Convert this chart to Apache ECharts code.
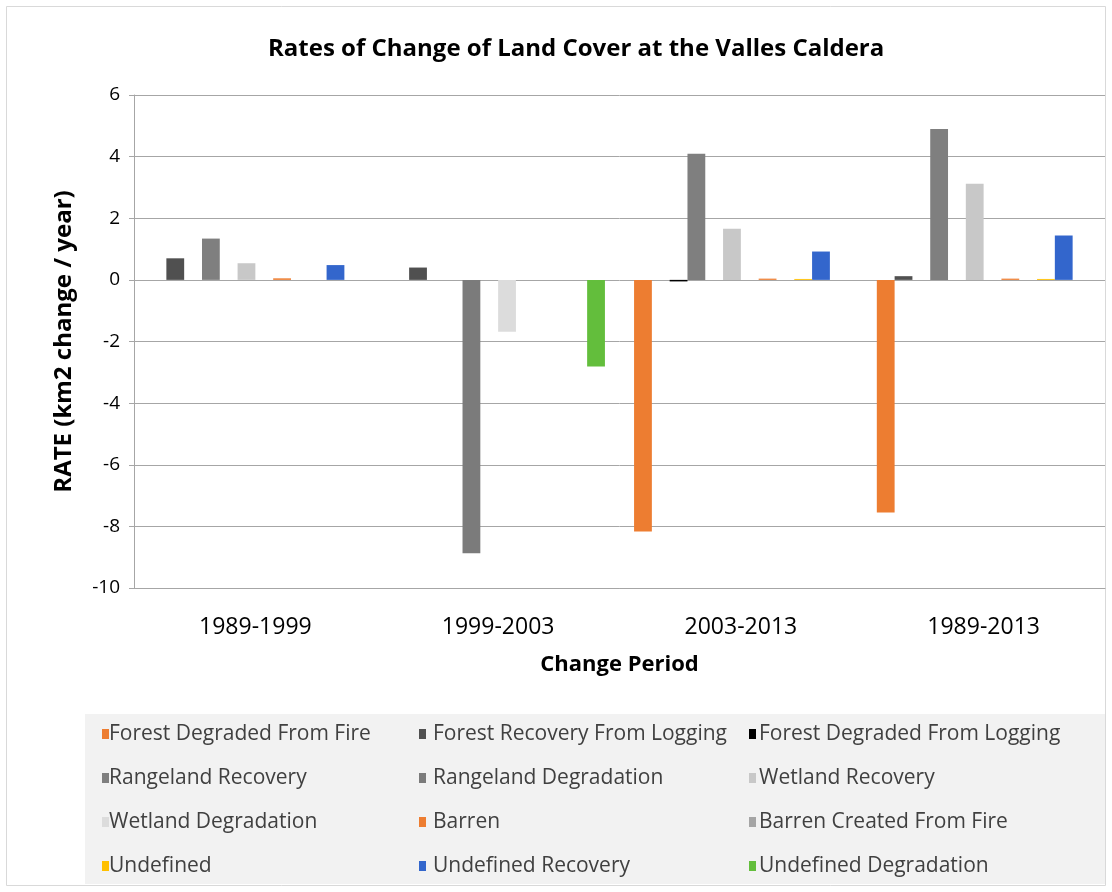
<!DOCTYPE html>
<html>
<head>
<meta charset="utf-8">
<script src="https://cdn.jsdelivr.net/npm/echarts@6/dist/echarts.min.js"></script>
<style>
html,body{margin:0;padding:0;background:#fff;}
#chart{width:1112px;height:892px;}
</style>
</head>
<body>
<div id="chart"></div>
<script>
const FONT = '"Open Sans", "Noto Sans", sans-serif';
const categories = ['1989-1999', '1999-2003', '2003-2013', '1989-2013'];
const yTicks = { min: -10, max: 6, interval: 2 };

const seriesNames = [
  'Forest Degraded From Fire', 'Forest Recovery From Logging', 'Forest Degraded From Logging',
  'Rangeland Recovery', 'Rangeland Degradation', 'Wetland Recovery',
  'Wetland Degradation', 'Barren', 'Barren Created From Fire',
  'Undefined', 'Undefined Recovery', 'Undefined Degradation'
];
const forestDegradedFromFire    = [0, 0, -8.17, -7.55];
const forestRecoveryFromLogging = [0.70, 0.40, 0, 0.12];
const forestDegradedFromLogging = [0, 0, -0.05, 0];
const rangelandRecovery         = [1.34, 0, 4.09, 4.90];
const rangelandDegradation      = [0, -8.87, 0, 0];
const wetlandRecovery           = [0.54, 0, 1.66, 3.12];
const wetlandDegradation        = [0, -1.68, 0, 0];
const barren                    = [0.05, 0, 0.04, 0.04];
const barrenCreatedFromFire     = [0, 0, 0, 0];
const undefinedCover            = [0, 0, 0.03, 0.03];
const undefinedRecovery         = [0.48, 0, 0.92, 1.44];
const undefinedDegradation      = [0, -2.81, 0, 0];

const seriesValues = [
  forestDegradedFromFire, forestRecoveryFromLogging, forestDegradedFromLogging,
  rangelandRecovery, rangelandDegradation, wetlandRecovery,
  wetlandDegradation, barren, barrenCreatedFromFire,
  undefinedCover, undefinedRecovery, undefinedDegradation
];
const colors = [
  '#ED7D31', '#505050', '#000000',
  '#7f7f7f', '#7b7b7b', '#c8c8c8',
  '#dcdcdc', '#ED7D31', '#a5a5a5',
  '#FFC000', '#3366CC', '#63BE3C'
];

const legendColumns = [
  [0, 3, 6, 9],
  [1, 4, 7, 10],
  [2, 5, 8, 11]
];
const legendLefts = [97, 414, 744];
const legendTextPad = [-5, 2, -2];

const chart = echarts.init(document.getElementById('chart'), null, { renderer: 'canvas' });

const series = seriesNames.map((name, i) => ({
  name: name,
  type: 'bar',
  data: seriesValues[i],
  itemStyle: { color: colors[i] },
  barGap: '0%',
  barCategoryGap: '12%'
}));

const legends = legendColumns.map((col, c) => ({
  orient: 'vertical',
  left: legendLefts[c],
  top: 718,
  itemWidth: 7,
  itemHeight: 10,
  itemGap: 22,
  icon: 'rect',
  selectedMode: false,
  data: col.map(i => seriesNames[i]),
  textStyle: { fontFamily: FONT, fontSize: 21, color: '#404040', lineHeight: 22, padding: [0, 0, 0, legendTextPad[c]] }
}));

chart.setOption({
  animation: false,
  backgroundColor: '#ffffff',
  color: colors,
  title: {
    text: 'Rates of Change of Land Cover at the Valles Caldera',
    left: 263,
    top: 32,
    textStyle: { fontFamily: FONT, fontSize: 24, fontWeight: 'bold', color: '#000' }
  },
  graphic: [
    { type: 'rect', shape: { x: 6.5, y: 6.5, width: 1099, height: 879 }, style: { fill: 'none', stroke: '#d9d9d9', lineWidth: 1 }, z: -10 },
    { type: 'rect', shape: { x: 85, y: 714, width: 1020, height: 170 }, style: { fill: '#f2f2f2' }, z: -5 }
  ],
  legend: legends,
  grid: { left: 134, right: 7, top: 95, bottom: 304, containLabel: false },
  xAxis: {
    type: 'category',
    data: categories,
    name: 'Change Period',
    nameLocation: 'middle',
    nameGap: 66,
    nameTextStyle: { fontFamily: FONT, fontSize: 22, fontWeight: 'bold', color: '#000' },
    axisLine: { onZero: false, lineStyle: { color: '#a6a6a6' } },
    axisTick: { show: false },
    axisLabel: { fontFamily: FONT, fontSize: 23, color: '#000', margin: 28 }
  },
  yAxis: {
    type: 'value',
    min: yTicks.min,
    max: yTicks.max,
    interval: yTicks.interval,
    name: 'RATE (km2 change / year)',
    nameLocation: 'middle',
    nameGap: 58,
    nameRotate: 90,
    nameTextStyle: { fontFamily: FONT, fontSize: 24, fontWeight: 'bold', color: '#000' },
    axisLine: { show: true, lineStyle: { color: '#a6a6a6' } },
    axisTick: { show: true, length: 5, lineStyle: { color: '#a6a6a6' } },
    axisLabel: { fontFamily: FONT, fontSize: 19, color: '#000', margin: 14 },
    splitLine: { show: true, lineStyle: { color: '#a6a6a6', width: 1 } }
  },
  series: series
});
</script>
</body>
</html>
